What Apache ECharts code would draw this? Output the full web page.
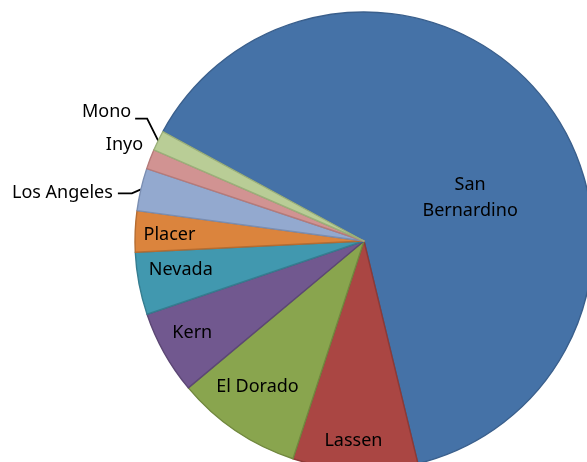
<!DOCTYPE html>
<html>
<head>
<meta charset="utf-8">
<script src="https://cdn.jsdelivr.net/npm/echarts@6/dist/echarts.min.js"></script>
<style>
html,body{margin:0;padding:0;background:#fff;}
#chart{width:587px;height:462px;}
</style>
</head>
<body>
<div id="chart"></div>
<script>
// Data (percent share)
const categories = ['San Bernardino', 'Lassen', 'El Dorado', 'Kern', 'Nevada', 'Placer', 'Los Angeles', 'Inyo', 'Mono'];
const values = [63.3, 8.8, 8.9, 5.9, 4.4, 2.9, 3.0, 1.4, 1.4];
const labelTexts = ['San\nBernardino', 'Lassen', 'El Dorado', 'Kern', 'Nevada', 'Placer', 'Los Angeles', 'Inyo', 'Mono'];

// Styling
const fills = ['#4572A7', '#AA4643', '#89A54E', '#71588F', '#4198AF', '#DB843D', '#93A9CF', '#D19392', '#B9CD96'];
const edges = ['#3A5F8C', '#8C3A37', '#71883F', '#5C4775', '#357D90', '#B56C31', '#7A8EB2', '#B57A79', '#9BB07A'];

const CX = 364, CY = 241, R = 229, START = 151.5;
// label placement: inside labels at fraction of radius (+ angle shift); outside ones anchored off the rim
const inside = {0: {f: 0.50, da: -15.5}, 1: {f: 0.875, da: -0.8}, 2: {f: 0.79, da: -2}, 3: {f: 0.85, da: -1.2}, 4: {f: 0.81, da: -1.7}, 5: {f: 0.85, da: 0.5}};
const outside = {
  6: {lx: -28, ly: 3, line: [[-9, 4], [-23, 4]]},
  7: {lx: -7, ly: -14, line: null},
  8: {lx: -27, ly: -29, line: [[-11, -22], [-23, -22]]}
};

const total = values.reduce((a, b) => a + b, 0);
const mids = [];
let acc = START;
values.forEach(v => { const span = v / total * 360; mids.push(acc - span / 2); acc -= span; });
function pt(angDeg, r) { const a = angDeg * Math.PI / 180; return [CX + r * Math.cos(a), CY - r * Math.sin(a)]; }

const data = categories.map((name, i) => {
  const isOut = outside[i] != null;
  return {
    name: name,
    value: values[i],
    itemStyle: {color: fills[i], borderColor: edges[i], borderWidth: 1.4},
    label: {position: isOut ? 'outside' : 'inside'},
    labelLine: {show: isOut && outside[i].line != null, length: 10, length2: 10,
      lineStyle: {color: '#000', width: 1.8}}
  };
});

const chart = echarts.init(document.getElementById('chart'), null, {renderer: 'canvas'});
chart.setOption({
  animation: false,
  backgroundColor: '#ffffff',
  series: [{
    type: 'pie',
    center: [CX, CY],
    radius: R,
    startAngle: START,
    clockwise: true,
    avoidLabelOverlap: false,
    silent: true,
    data: data,
    label: {
      show: true,
      color: '#000',
      fontFamily: 'Noto Sans',
      fontSize: 18,
      lineHeight: 26,
      formatter: p => labelTexts[p.dataIndex]
    },
    labelLayout: function (p) {
      const i = p.dataIndex;
      if (inside[i]) {
        const q = pt(mids[i] + inside[i].da, R * inside[i].f);
        return {x: q[0], y: q[1], align: 'center', verticalAlign: 'middle'};
      }
      const o = outside[i];
      const rim = pt(mids[i], R);
      const res = {x: rim[0] + o.lx, y: rim[1] + o.ly, align: 'right', verticalAlign: 'middle'};
      if (o.line) {
        res.labelLinePoints = [rim, [rim[0] + o.line[0][0], rim[1] + o.line[0][1]], [rim[0] + o.line[1][0], rim[1] + o.line[1][1]]];
      }
      return res;
    }
  }]
});
</script>
</body>
</html>
